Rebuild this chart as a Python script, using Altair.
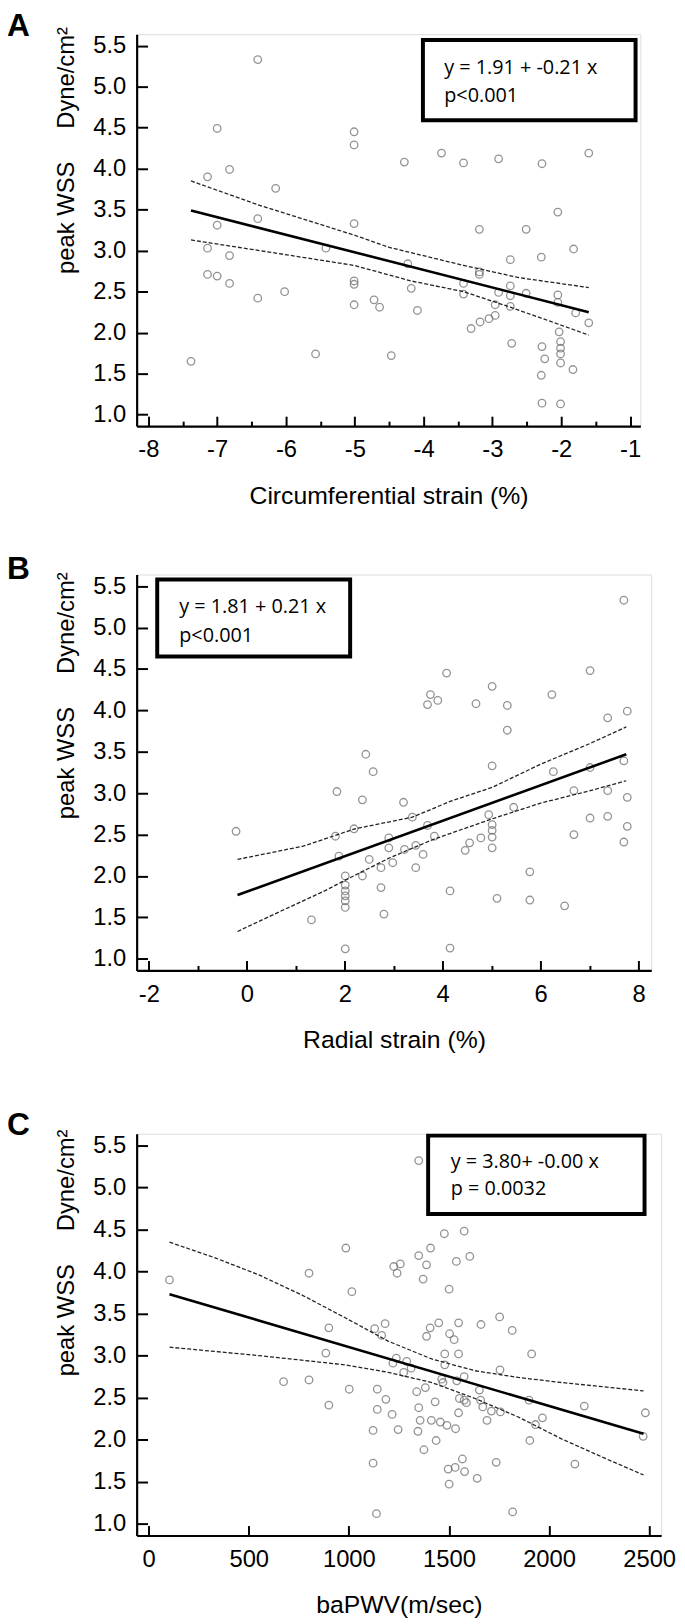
import altair as alt
import pandas as pd

FONT = "Open Sans"

# ---------------- Panel A : Circumferential strain ----------------
a_points = [(-7.38,1.65),(-7.14,3.90),(-7.14,3.03),(-7.14,2.71),(-7.0,4.49),(-7.0,3.31),(-7.0,2.69),
            (-6.82,3.99),(-6.82,2.94),(-6.82,2.60),(-6.41,5.33),(-6.41,3.39),(-6.41,2.42),(-6.15,3.76),
            (-6.02,2.50),(-5.57,1.74),(-5.42,3.03),(-5.01,4.45),(-5.01,4.29),(-5.01,3.33),(-5.01,2.63),
            (-5.01,2.59),(-5.01,2.34),(-4.72,2.40),(-4.64,2.31),(-4.47,1.72),(-4.28,4.08),(-4.23,2.84),
            (-4.18,2.54),(-4.09,2.27),(-3.74,4.19),(-3.42,4.07),(-3.42,2.60),(-3.42,2.47),(-3.31,2.05),
            (-3.19,3.26),(-3.19,2.74),(-3.19,2.71),(-3.18,2.13),(-3.05,2.17),(-2.96,2.21),(-2.96,2.34),
            (-2.91,4.12),(-2.91,2.49),(-2.74,2.89),(-2.74,2.57),(-2.74,2.45),(-2.74,2.32),(-2.72,1.87),
            (-2.51,3.26),(-2.51,2.48),(-2.29,2.92),(-2.28,4.06),(-2.28,1.83),(-2.29,1.48),(-2.28,1.14),
            (-2.24,1.68),(-2.05,3.47),(-2.05,2.46),(-2.05,2.37),(-2.03,2.01),(-2.01,1.89),(-2.01,1.81),
            (-2.01,1.74),(-2.01,1.63),(-2.01,1.13),(-1.83,1.55),(-1.82,3.02),(-1.79,2.24),(-1.60,4.19),
            (-1.60,2.12)]
a_fit_x = [-7.38, -1.60]
a_fit_y = [3.49, 2.25]
a_ci_x = [-7.38, -6.41, -5.01, -4.5, -3.42, -2.61, -1.60]
a_ci_up = [3.85, 3.56, 3.19, 3.04, 2.82, 2.67, 2.55]
a_ci_lo_x = [-7.38, -6.38, -5.01, -4.18, -3.42, -2.74, -2.30, -1.60]
a_ci_lo = [3.13, 3.00, 2.82, 2.63, 2.50, 2.31, 2.18, 1.97]
a_domain = [-8.17, -0.85]
a_major = [-8, -7, -6, -5, -4, -3, -2, -1]
a_minor = [-7.5, -6.5, -5.5, -4.5, -3.5, -2.5, -1.5]
a_box = [-4.01, -0.92, 5.57, 4.59]
a_text = ["y = 1.91 + -0.21 x", "p<0.001"]
a_text_x = -3.70
a_text_y = [5.23, 4.88]

# ---------------- Panel B : Radial strain ----------------
b_points = [(-0.22,2.54),(1.32,1.47),(1.84,3.02),(1.81,2.48),(1.88,2.24),(2.01,2.00),(2.01,1.89),
            (2.01,1.82),(2.01,1.76),(2.01,1.70),(2.01,1.62),(2.01,1.12),(2.19,2.57),(2.36,2.92),
            (2.36,2.00),(2.43,3.47),(2.50,2.20),(2.58,3.26),(2.74,2.10),(2.74,1.86),(2.80,1.54),
            (2.90,2.46),(2.90,2.34),(2.98,2.16),(3.20,2.89),(3.22,2.32),(3.38,2.71),(3.45,2.37),
            (3.45,2.10),(3.60,2.26),(3.69,2.61),(3.69,4.07),(3.75,4.19),(3.83,2.48),(3.90,4.12),
            (4.08,4.45),(4.15,1.82),(4.15,1.13),(4.46,2.31),(4.55,2.40),(4.68,4.08),(4.78,2.46),
            (4.94,2.74),(5.01,4.29),(5.01,3.33),(5.01,2.62),(5.01,2.55),(5.01,2.47),(5.01,2.34),
            (5.11,1.73),(5.32,4.06),(5.32,3.76),(5.45,2.83),(5.78,2.05),(5.78,1.71),(6.23,4.19),
            (6.26,3.26),(6.49,1.64),(6.68,3.03),(6.68,2.50),(7.01,4.48),(7.01,3.31),(7.01,2.70),
            (7.37,3.91),(7.37,3.03),(7.37,2.72),(7.70,5.33),(7.70,3.39),(7.70,2.41),(7.77,3.99),
            (7.77,2.95),(7.77,2.60)]
b_fit_x = [-0.19, 7.75]
b_fit_y = [1.77, 3.47]
b_ci_x = [-0.19, 1.15, 2.21, 3.38, 4.15, 5.01, 6.0, 7.01, 7.75]
b_ci_up = [2.20, 2.36, 2.57, 2.71, 2.90, 3.07, 3.35, 3.60, 3.80]
b_ci_lo_x = [-0.19, 0.71, 1.59, 2.01, 2.92, 3.80, 5.01, 6.0, 7.01, 7.75]
b_ci_lo = [1.33, 1.58, 1.82, 1.95, 2.22, 2.44, 2.69, 2.88, 3.03, 3.15]
b_domain = [-2.25, 8.26]
b_major = [-2, 0, 2, 4, 6, 8]
b_minor = [-1, 1, 3, 5, 7]
b_box = [-1.83, 2.11, 5.58, 4.65]
b_text = ["y = 1.81 + 0.21 x", "p<0.001"]
b_text_x = -1.38
b_text_y = [5.25, 4.90]

# ---------------- Panel C : baPWV ----------------
c_points = [(104,3.90),(674,2.69),(801,3.98),(801,2.71),(885,3.03),(900,3.33),(900,2.41),(985,4.28),
            (1002,2.60),(1015,3.76),(1121,1.72),(1121,2.11),(1129,3.32),(1138,1.12),(1142,2.60),
            (1142,2.36),(1164,3.24),(1181,3.38),(1185,2.48),(1216,2.30),(1220,2.91),(1224,4.06),
            (1237,2.97),(1241,3.98),(1246,2.12),(1257,4.09),(1274,2.80),(1289,2.93),(1311,2.85),
            (1339,2.57),(1345,2.10),(1349,5.32),(1349,4.19),(1349,2.38),(1356,2.23),(1371,3.91),
            (1375,1.88),(1382,2.62),(1388,4.08),(1388,3.23),(1406,3.33),(1408,4.28),(1412,2.23),
            (1431,2.45),(1436,1.99),(1449,3.39),(1457,2.21),(1464,2.72),(1470,2.68),(1477,4.45),
            (1479,3.02),(1479,2.89),(1490,2.17),(1496,1.65),(1501,1.47),(1501,3.79),(1503,3.26),
            (1526,3.19),(1531,1.67),(1533,2.13),(1537,4.12),(1539,2.70),(1548,3.02),(1548,3.39),
            (1548,2.32),(1552,2.49),(1567,1.77),(1576,4.48),(1576,2.75),(1578,1.62),(1576,2.47),
            (1587,2.44),(1604,4.18),(1641,1.54),(1652,2.59),(1660,3.37),(1658,2.47),(1669,2.39),
            (1690,2.23),(1712,2.34),(1736,1.73),(1753,3.46),(1755,2.83),(1757,2.33),(1816,3.30),
            (1818,1.14),(1900,2.47),(1904,1.99),(1913,3.02),(1932,2.18),(1967,2.26),(2129,1.71),
            (2176,2.40),(2470,2.04),(2481,2.32)]
c_fit_x = [104, 2472]
c_fit_y = [3.73, 2.07]
c_ci_x = [104, 335, 551, 766, 982, 1198, 1414, 1630, 1846, 2062, 2472]
c_ci_up = [4.35, 4.16, 3.96, 3.72, 3.45, 3.17, 2.96, 2.82, 2.74, 2.68, 2.58]
c_ci_lo_x = [104, 551, 982, 1198, 1414, 1630, 1846, 2062, 2278, 2472]
c_ci_lo = [3.10, 3.00, 2.89, 2.80, 2.68, 2.49, 2.27, 2.01, 1.78, 1.58]
c_domain = [-60, 2560]
c_major = [0, 500, 1000, 1500, 2000, 2500]
c_minor = []
c_box = [1396, 2477, 5.617, 4.684]
c_text = ["y = 3.80+ -0.00 x", "p = 0.0032"]
c_text_x = 1509
c_text_y = [5.30, 4.98]

y_domain = [0.86, 5.64]
y_ticks = [1.0, 1.5, 2.0, 2.5, 3.0, 3.5, 4.0, 4.5, 5.0, 5.5]
y_title = "peak WSS" + "\u00a0" * 5 + "Dyne/cm\u00b2"


def panel(letter, letter_y, title_y, pts, fit_x, fit_y, ci_x, ci_up, ci_lo_x, ci_lo, xdomain,
          major, minor, box, texts, text_x, text_y, xtitle, width, height):
    xs = alt.Scale(domain=xdomain, nice=False, zero=False)
    ys = alt.Scale(domain=y_domain, nice=False, zero=False)

    pts_df = pd.DataFrame(pts, columns=["x", "y"])
    fit_df = pd.DataFrame({"x": fit_x, "y": fit_y})
    ci_df = pd.concat([
        pd.DataFrame({"x": ci_x, "y": ci_up, "side": "upper"}),
        pd.DataFrame({"x": ci_lo_x, "y": ci_lo, "side": "lower"}),
    ])
    box_df = pd.DataFrame({"x": [box[0]], "x2": [box[1]], "y": [box[2]], "y2": [box[3]]})
    txt_df = pd.DataFrame({"x": [text_x, text_x], "y": text_y, "t": texts})
    letter_df = pd.DataFrame({"t": [letter]})

    points = alt.Chart(pts_df).mark_point(
        shape="circle", filled=False, size=58, strokeWidth=1.3, color="#666666"
    ).encode(
        x=alt.X("x:Q", scale=xs, axis=alt.Axis(
            orient="bottom", values=major, ticks=False, tickSize=0, labelPadding=12,
            labelFontSize=24, labelFlush=False, labelOverlap=False, grid=False,
            labelExpr="'' + datum.value",
            domainColor="black", domainWidth=2.2, title=xtitle, titleFontSize=25,
            titleFontWeight="normal", titleY=70, titleBaseline="middle")),
        y=alt.Y("y:Q", scale=ys, axis=alt.Axis(
            orient="left", values=y_ticks, format=".1f", ticks=False, tickSize=0,
            labelPadding=11, labelFontSize=24, grid=False, domainColor="black",
            domainWidth=2.2, title=y_title, titleFontSize=24, titleFontWeight="normal",
            titleAngle=270, titleX=-64, titleY=title_y, titleAlign="center",
            titleBaseline="alphabetic")),
    )

    fit = alt.Chart(fit_df).mark_line(color="black", strokeWidth=2.6).encode(
        x=alt.X("x:Q", scale=xs, axis=alt.Axis(
            orient="top", offset=-height, values=major, labels=False, domain=False,
            tickSize=10, tickWidth=2, tickColor="black", title=None, grid=False)),
        y=alt.Y("y:Q", scale=ys, axis=alt.Axis(
            orient="right", offset=-width, values=y_ticks, labels=False, domain=False,
            tickSize=11, tickWidth=2, tickColor="black", title=None, grid=False)),
    )

    if minor:
        ci_xaxis = alt.Axis(orient="top", offset=-height, values=minor, labels=False,
                            domain=False, tickSize=5, tickWidth=2, tickColor="black",
                            title=None, grid=False)
    else:
        ci_xaxis = None
    ci = alt.Chart(ci_df).mark_line(color="#222222", strokeWidth=1.3, strokeDash=[4, 2]).encode(
        x=alt.X("x:Q", scale=xs, axis=ci_xaxis),
        y=alt.Y("y:Q", scale=ys, axis=None),
        detail="side:N",
    )

    rect = alt.Chart(box_df).mark_rect(
        fillOpacity=0, stroke="black", strokeWidth=4
    ).encode(
        x=alt.X("x:Q", scale=xs, axis=None), x2="x2:Q",
        y=alt.Y("y:Q", scale=ys, axis=None), y2="y2:Q",
    )

    txt = alt.Chart(txt_df).mark_text(
        align="left", baseline="middle", fontSize=20, font=FONT, color="black"
    ).encode(
        x=alt.X("x:Q", scale=xs, axis=None),
        y=alt.Y("y:Q", scale=ys, axis=None),
        text="t:N",
    )

    label = alt.Chart(letter_df).mark_text(
        align="left", baseline="alphabetic", fontSize=32, fontWeight="bold",
        font="Liberation Sans", color="black"
    ).encode(x=alt.value(-131), y=alt.value(letter_y), text="t:N")

    return alt.layer(points, fit, ci, rect, txt, label).resolve_axis(
        x="independent", y="independent"
    ).properties(width=width, height=height)


A = panel("A", 2, 117, a_points, a_fit_x, a_fit_y, a_ci_x, a_ci_up, a_ci_lo_x, a_ci_lo, a_domain,
          a_major, a_minor, a_box, a_text, a_text_x, a_text_y,
          "Circumferential strain (%)", 509, 396)
B = panel("B", 5, 122, b_points, b_fit_x, b_fit_y, b_ci_x, b_ci_up, b_ci_lo_x, b_ci_lo, b_domain,
          b_major, b_minor, b_box, b_text, b_text_x, b_text_y,
          "Radial strain (%)", 520, 400)
C = panel("C", 1, 120, c_points, c_fit_x, c_fit_y, c_ci_x, c_ci_up, c_ci_lo_x, c_ci_lo, c_domain,
          c_major, c_minor, c_box, c_text, c_text_x, c_text_y,
          "baPWV(m/sec)", 530, 406)

chart = alt.vconcat(alt.vconcat(A, B, spacing=44), C, spacing=55).properties(
    padding={"left": -2, "top": -7, "right": 0, "bottom": 0}
).configure_view(
    stroke="black", strokeWidth=1.5
).configure_axis(
    labelFont=FONT, titleFont=FONT, labelColor="black", titleColor="black"
).configure(background="white")

chart.save("out.html", embed_options={"renderer": "svg", "actions": False})
